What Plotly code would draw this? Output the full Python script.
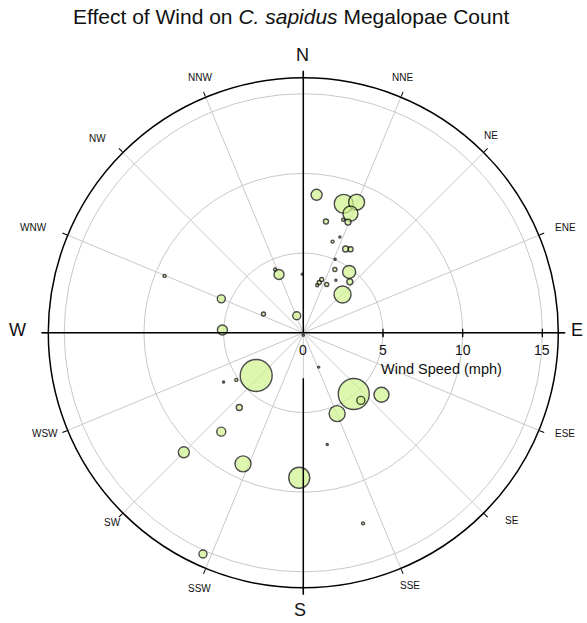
import math
import plotly.graph_objects as go

# Observations: wind direction (compass degrees, clockwise from N),
# wind speed (mph) and megalopae count
wind_dir = [5.5, 17.4, 22.2, 21.6, 22.0, 19.4, 11.5, 17.8, 20.9, 26.8,
            29.5, 23.4, 26.5, 37.0, 42.4, 31.8, 17.6, 25.8, 19.0, 16.3,
            45.7, 337.4, 336.0, 359.0, 292.5, 295.2, 338.9, 272.0, 292.3, 180.0,
            227.8, 238.3, 234.9, 220.6, 219.7, 225.0, 204.7, 181.6, 155.9, 167.9,
            140.5, 139.6, 128.4, 157.3, 162.6, 204.4]
wind_speed = [8.70, 8.48, 8.85, 8.04, 7.49, 7.52, 7.13, 6.01, 6.43, 5.89,
              6.02, 5.03, 4.44, 4.78, 4.33, 3.88, 3.31, 3.37, 3.54, 3.11,
              3.44, 3.96, 4.35, 3.68, 5.57, 2.76, 1.15, 5.08, 9.41, 0.15,
              3.99, 5.88, 5.14, 6.17, 8.06, 10.60, 9.05, 9.10, 2.36, 7.17,
              4.98, 5.57, 6.26, 5.50, 12.53, 15.24]
megalopae = [121, 360, 256, 225, 36, 9, 25, 9, 4, 36,
             25, 4, 16, 170, 36, 4, 16, 16, 16, 9,
             290, 100, 9, 4, 64, 16, 64, 100, 9, 4,
             1020, 4, 9, 36, 81, 121, 256, 440, 4, 4,
             960, 64, 225, 256, 9, 64]

# Compass labels and radial tick labels
compass_dirs = ["N", "NNE", "NE", "ENE", "E", "ESE", "SE", "SSE",
                "S", "SSW", "SW", "WSW", "W", "WNW", "NW", "NNW"]
compass_deg = [i * 22.5 for i in range(16)]
speed_ticks = [0, 5, 10, 15]
r_max = 16

W, H = 587, 623
cx, cy, R = 303.3, 332.8, 255.0   # polar centre and radius in pixels
ppm = R / r_max                    # pixels per mph


def px(x):
    return x / W


def py(y):
    return 1 - y / H


# draw the largest bubbles first so small ones stay visible on top
order = sorted(range(len(megalopae)), key=lambda i: -megalopae[i])

fig = go.Figure()
fig.add_trace(go.Scatterpolar(
    r=[wind_speed[i] for i in order],
    theta=[wind_dir[i] for i in order],
    mode="markers",
    marker=dict(
        size=[megalopae[i] for i in order],
        sizemode="area", sizeref=2, sizemin=1,
        color="rgb(208,246,140)",
        line=dict(color="black", width=1.4),
    ),
    showlegend=False,
    hoverinfo="r+theta",
))

fig.update_layout(
    width=W, height=H,
    margin=dict(l=0, r=0, t=0, b=0),
    paper_bgcolor="white",
    font=dict(family="Liberation Sans, Arial, sans-serif", color="#111"),
    polar=dict(
        domain=dict(x=[px(cx - R), px(cx + R)], y=[py(cy + R), py(cy - R)]),
        bgcolor="white",
        angularaxis=dict(
            rotation=90, direction="clockwise",
            tickmode="array", tickvals=compass_deg,
            showticklabels=False,
            ticks="outside", ticklen=5, tickcolor="black", tickwidth=1,
            showline=True, linecolor="black", linewidth=1.5,
            showgrid=True, gridcolor="#c8c8c8", gridwidth=1,
        ),
        radialaxis=dict(
            range=[0, r_max], angle=0,
            tickmode="array", tickvals=speed_ticks[1:],
            showticklabels=False,
            ticks="outside", ticklen=4, tickcolor="black",
            showline=False,
            showgrid=True, gridcolor="#c8c8c8", gridwidth=1,
        ),
    ),
)

# black N/S and E/W axes
ext = 7
axis_lines = [
    (cx - R - ext, cy, cx + R + ext, cy),          # W - E
    (cx, cy - R - ext, cx, cy),                    # N half
    (cx, cy + 2.85 * ppm, cx, cy + R + ext),       # S half
]
for x0, y0, x1, y1 in axis_lines:
    fig.add_shape(type="line", xref="paper", yref="paper",
                  x0=px(x0), y0=py(y0), x1=px(x1), y1=py(y1),
                  line=dict(color="black", width=1.5), layer="above")

# tick marks on the speed axis
for v in speed_ticks[1:]:
    x = cx + v * ppm
    fig.add_shape(type="line", xref="paper", yref="paper",
                  x0=px(x), y0=py(cy - 4), x1=px(x), y1=py(cy + 4),
                  line=dict(color="black", width=1.2), layer="above")

# compass labels
label_pos = {
    "N": (302, 55), "NNE": (402, 78), "NE": (491, 135), "ENE": (565, 228),
    "E": (577, 330), "ESE": (565, 433), "SE": (512, 520), "SSE": (410, 585),
    "S": (300, 610), "SSW": (199, 588), "SW": (112, 522), "WSW": (45, 433),
    "W": (17, 330), "WNW": (33, 228), "NW": (97, 138), "NNW": (200, 78),
}
for d in compass_dirs:
    x, y = label_pos[d]
    big = len(d) == 1
    fig.add_annotation(x=px(x), y=py(y), xref="paper", yref="paper",
                       text=d, showarrow=False,
                       xanchor="center", yanchor="middle",
                       font=dict(size=18 if big else 10, color="#111"))

# speed tick labels
for v in speed_ticks:
    fig.add_annotation(x=px(cx + v * ppm), y=py(350), xref="paper", yref="paper",
                       text=str(v), showarrow=False,
                       xanchor="center", yanchor="middle",
                       font=dict(size=14, color="#111"))
fig.add_annotation(x=px(379), y=py(369), xref="paper", yref="paper",
                   text="Wind Speed (mph)", showarrow=False,
                   xanchor="left", yanchor="middle",
                   font=dict(size=14.5, color="#111"))

# title
fig.add_annotation(x=px(291), y=py(16), xref="paper", yref="paper",
                   text="Effect of Wind on <i>C. sapidus</i> Megalopae Count",
                   showarrow=False, xanchor="center", yanchor="middle",
                   font=dict(size=21, color="#111"))

fig.write_html("out.html")
